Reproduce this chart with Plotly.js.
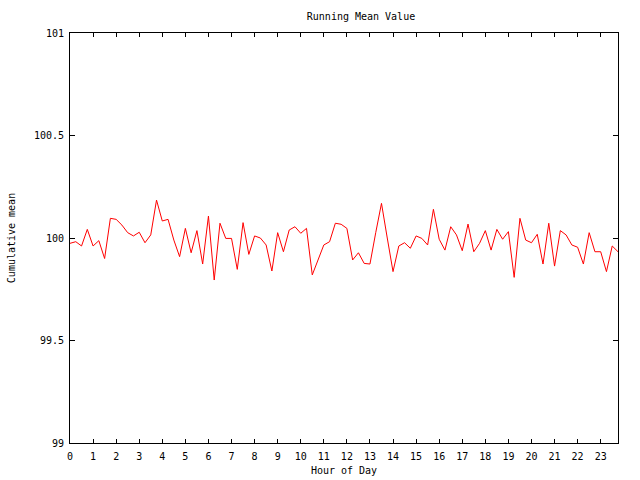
<!DOCTYPE html>
<html>
<head>
<meta charset="utf-8">
<script src="https://cdn.plot.ly/plotly-3.0.1.min.js"></script>
<style>html,body{margin:0;padding:0;background:#fff}#chart{width:640px;height:480px}</style>
</head>
<body>
<div id="chart"></div>
<script>
// Hour of day (quarter-hour samples)
const hours = [];
for (let i = 0; i < 96; i++) hours.push(i * 0.25);

const cumulativeMean = [
  99.974, 99.982, 99.961, 100.042, 99.961, 99.987, 99.900, 100.096,
  100.091, 100.063, 100.026, 100.010, 100.028, 99.977, 100.015, 100.185,
  100.083, 100.091, 99.990, 99.909, 100.047, 99.928, 100.036, 99.873,
  100.107, 99.795, 100.072, 99.998, 99.998, 99.847, 100.075, 99.920,
  100.010, 100.000, 99.966, 99.839, 100.026, 99.933, 100.039, 100.055,
  100.023, 100.047, 99.820, 99.890, 99.966, 99.982, 100.072, 100.067,
  100.047, 99.893, 99.928, 99.876, 99.873, 100.026, 100.169, 100.000,
  99.836, 99.961, 99.977, 99.950, 100.010, 99.998, 99.966, 100.140,
  99.994, 99.941, 100.055, 100.015, 99.938, 100.068, 99.933, 99.974,
  100.036, 99.941, 100.042, 99.994, 100.031, 99.808, 100.096, 99.990,
  99.977, 100.018, 99.873, 100.072, 99.863, 100.036, 100.015, 99.966,
  99.955, 99.873, 100.026, 99.933, 99.933, 99.836, 99.961, 99.933
];

const xTicks = [];
for (let h = 0; h <= 23; h++) xTicks.push(h);
const yTicks = [99, 99.5, 100, 100.5, 101];
const yTickText = ["99", "99.5", "100", "100.5", "101"];

const font = {family: "DejaVu Sans Mono, monospace", size: 10, color: "#000"};

Plotly.newPlot("chart", [{
  x: hours, y: cumulativeMean, type: "scatter", mode: "lines",
  line: {color: "#ff0000", width: 1}, hoverinfo: "skip"
}], {
  width: 640, height: 480,
  margin: {l: 70, r: 22, t: 33, b: 37},
  paper_bgcolor: "#fff", plot_bgcolor: "#fff",
  showlegend: false,
  font: font,
  title: {text: "Running Mean Value", font: font, x: 0.531, xanchor: "center",
          y: 1 - 16/480, yanchor: "middle", xref: "paper", yref: "container"},
  xaxis: {
    range: [0, 23.75], tickvals: xTicks, ticktext: xTicks.map(String),
    ticks: "inside", ticklen: 4, tickcolor: "#000", tickwidth: 1,
    showline: true, linecolor: "#000", linewidth: 1, mirror: "ticks",
    showgrid: false, zeroline: false, tickfont: font, tickangle: 0,
    ticklabelstandoff: 4,
    title: {text: "Hour of Day", font: font, standoff: 5}
  },
  yaxis: {
    range: [99, 101], tickvals: yTicks, ticktext: yTickText,
    ticks: "inside", ticklen: 5, tickcolor: "#000", tickwidth: 1,
    showline: true, linecolor: "#000", linewidth: 1, mirror: "ticks",
    showgrid: false, zeroline: false, tickfont: font,
    ticklabelstandoff: 3,
    title: {text: "Cumulative mean", font: font, standoff: 16}
  }
}, {staticPlot: true, displayModeBar: false});
</script>
</body>
</html>
